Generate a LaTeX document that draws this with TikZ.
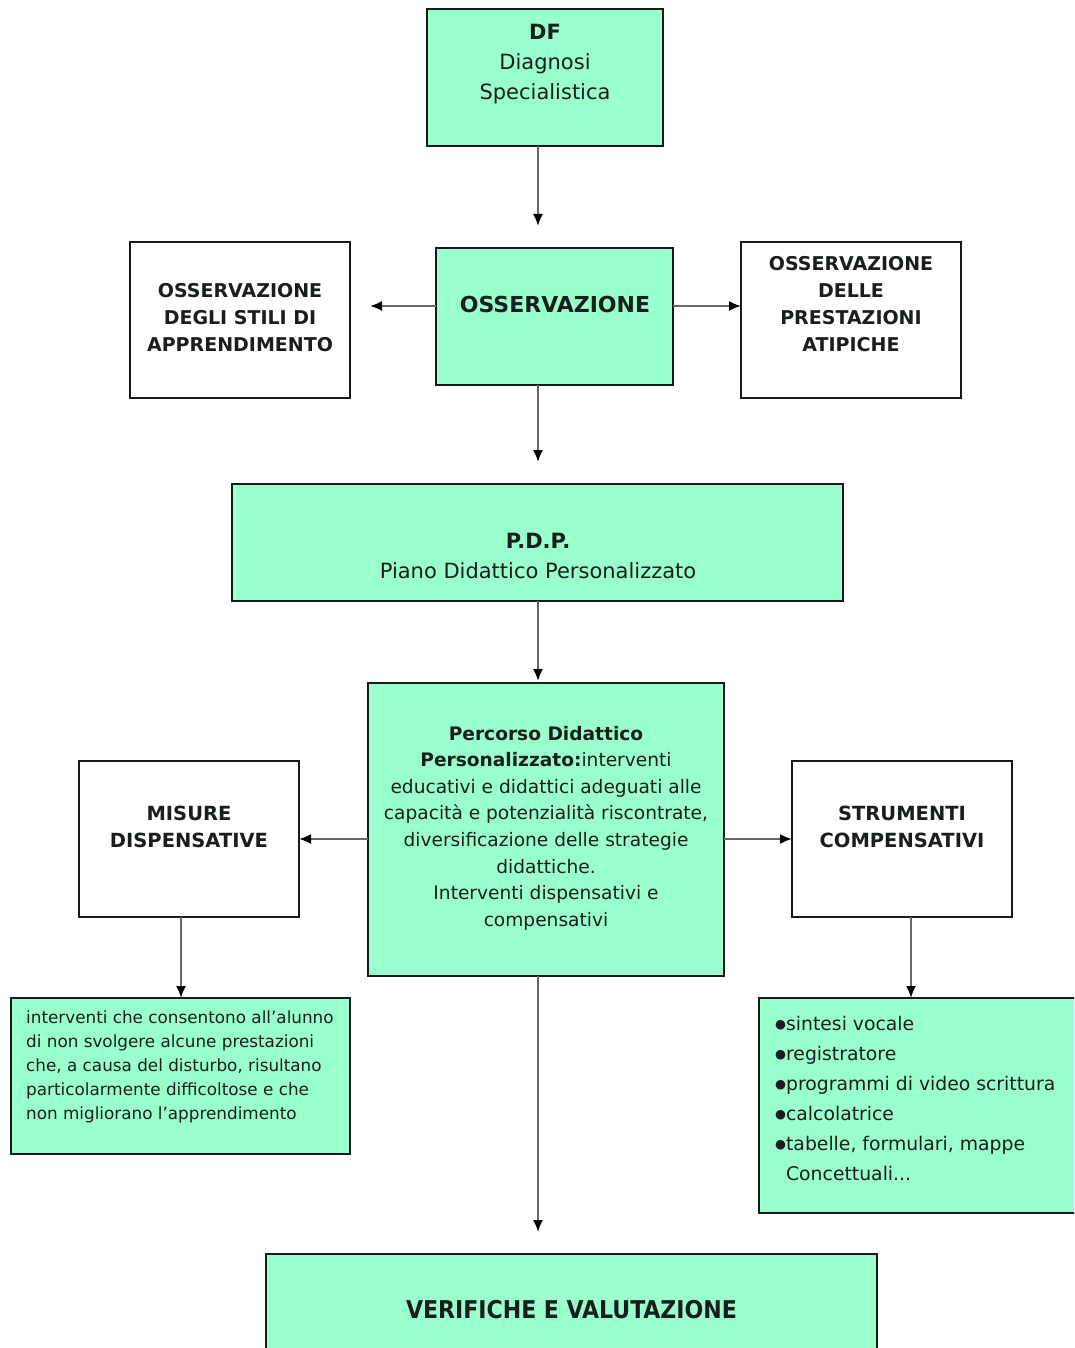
\documentclass[tikz,border=0pt]{standalone}
\usepackage{fontspec}
\setmainfont{DejaVu Sans}
\newfontfamily\condfont{DejaVu Sans Condensed}
\usetikzlibrary{arrows.meta}
\definecolor{menta}{RGB}{153,255,204}
\definecolor{inchiostro}{RGB}{25,30,28}
\newcommand{\carattere}[2]{\fontsize{#1}{#2}\selectfont}
\newcommand{\punto}{\raisebox{2.2pt}{\fontsize{12.5}{12.5}\selectfont ●}}

\begin{document}
\begin{tikzpicture}[x=1pt,y=-1pt,
    box/.style={draw=black!90,line width=1.8pt,inner sep=0pt,outer sep=0pt},
    verde/.style={box,fill=menta},
    bianco/.style={box,fill=white},
    freccia/.style={-{Latex[length=12pt,width=10pt,black]},line width=2pt,draw=black!60},
    testo/.style={align=center,text=inchiostro,inner sep=0pt},
    ]

    \useasboundingbox (0,0) rectangle (1074,1348);
    \clip (0,0) rectangle (1074,1348);

    % caselle
    \node[verde,minimum width=236pt,minimum height=137pt] (df) at (545,77.5) {};
    \node[verde,minimum width=237pt,minimum height=137pt] (oss) at (554.5,316.5) {};
    \node[bianco,minimum width=220pt,minimum height=156pt] (stili) at (240,320) {};
    \node[bianco,minimum width=220pt,minimum height=156pt] (atip) at (851,320) {};
    \node[verde,minimum width=611pt,minimum height=117pt] (pdp) at (537.5,542.5) {};
    \node[verde,minimum width=356pt,minimum height=293pt] (perc) at (546,829.5) {};
    \node[bianco,minimum width=220pt,minimum height=156pt] (mis) at (189,839) {};
    \node[bianco,minimum width=220pt,minimum height=156pt] (strum) at (902,839) {};
    \node[verde,minimum width=339pt,minimum height=156pt] (disp) at (180.5,1076) {};
    \node[verde,minimum width=331pt,minimum height=215pt] (comp) at (924.5,1105.5) {};
    \node[verde,minimum width=611pt,minimum height=110pt] (verif) at (571.5,1309) {};

    % frecce
    \coordinate (spina) at (538,0);
    \coordinate (riga1) at (0,306);
    \coordinate (riga2) at (0,839);
    \coordinate (colsx) at (181,0);
    \coordinate (coldx) at (911,0);

    \draw[freccia,shorten >=22pt] (df.south -| spina) -- (oss.north -| spina);
    \draw[freccia,shorten >=22pt] (oss.south -| spina) -- (pdp.north -| spina);
    \draw[freccia,shorten >=2pt] (pdp.south -| spina) -- (perc.north -| spina);
    \draw[freccia,shorten >=22pt] (perc.south -| spina) -- (verif.north -| spina);
    \draw[freccia,shorten >=20pt] (oss.west |- riga1) -- (stili.east |- riga1);
    \draw[freccia] (oss.east |- riga1) -- (atip.west |- riga1);
    \draw[freccia] (perc.west |- riga2) -- (mis.east |- riga2);
    \draw[freccia] (perc.east |- riga2) -- (strum.west |- riga2);
    \draw[freccia] (mis.south -| colsx) -- (disp.north -| colsx);
    \draw[freccia] (strum.south -| coldx) -- (comp.north -| coldx);

    % testi
    \node[testo,font=\carattere{21}{30}] (dft) at (545,64.5)
        {\textbf{DF}\\Diagnosi\\Specialistica};
    \node[testo,font=\carattere{22}{30}\bfseries] (osst) at (555,304) {OSSERVAZIONE};
    \node[testo,font=\carattere{19}{27}\bfseries] (stilit) at (240,318)
        {OSSERVAZIONE\\DEGLI STILI DI\\APPRENDIMENTO};
    \node[testo,font=\carattere{19}{27}\bfseries] (atipt) at (851,304.5)
        {OSSERVAZIONE\\DELLE\\PRESTAZIONI\\ATIPICHE};
    \node[testo,font=\carattere{21}{30}] (pdpt) at (538,556)
        {\textbf{P.D.P.}\\Piano Didattico Personalizzato};
    \node[testo,font=\carattere{18.6}{26.6}] (perct) at (546,828)
        {\textbf{Percorso Didattico}\\\textbf{Personalizzato:}interventi\\educativi e didattici adeguati alle\\capacità e potenzialità riscontrate,\\diversificazione delle strategie\\didattiche.\\Interventi dispensativi e\\compensativi};
    \node[testo,font=\carattere{19.5}{27}\bfseries] (mist) at (189,826.5)
        {MISURE\\DISPENSATIVE};
    \node[testo,font=\carattere{19.5}{27}\bfseries] (strumt) at (902,826.5)
        {STRUMENTI\\COMPENSATIVI};
    \node[testo,align=left,anchor=west,font=\carattere{16.8}{24}] (dispt) at (26,1067)
        {interventi che consentono all’alunno\\di non svolgere alcune prestazioni\\che, a causa del disturbo, risultano\\particolarmente difficoltose e che\\non migliorano l’apprendimento};
    \node[testo,align=left,anchor=west,font=\carattere{18.8}{30}] (compt) at (775,1098.5)
        {\punto sintesi vocale\\\punto registratore\\\punto programmi di video scrittura\\\punto calcolatrice\\\punto tabelle, formulari, mappe\\\hphantom{\punto}Concettuali...};
    \node[testo,font=\carattere{24.5}{30}\condfont\bfseries] (verift) at (571.5,1310)
        {VERIFICHE E VALUTAZIONE};

\end{tikzpicture}
\end{document}
